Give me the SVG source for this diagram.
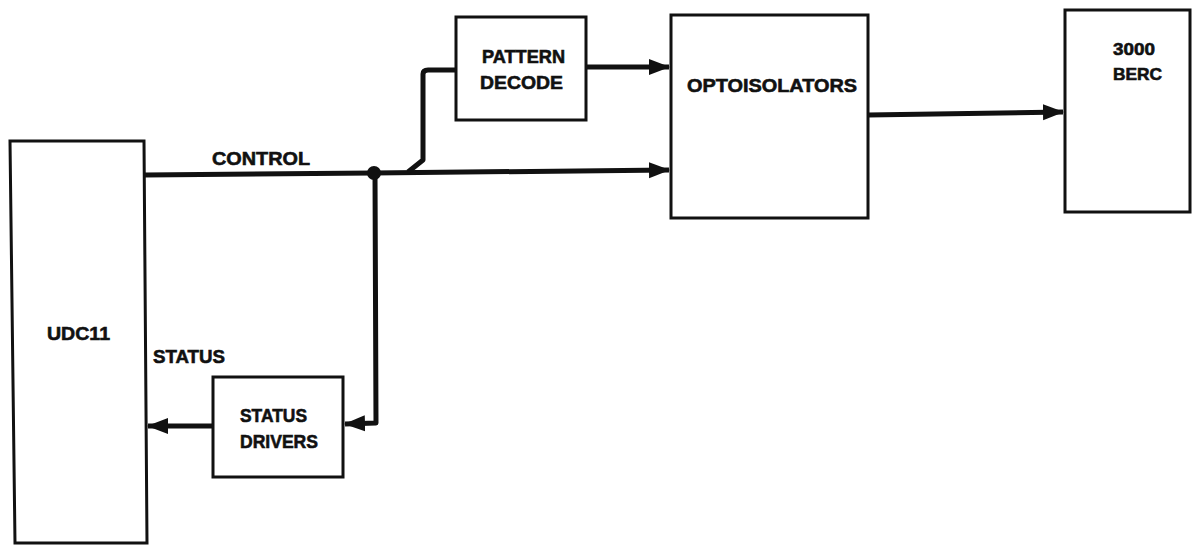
<svg xmlns="http://www.w3.org/2000/svg" width="1193" height="546" viewBox="0 0 1193 546">
  <style>
    .box { fill: #fff; stroke: #111; stroke-width: 3; }
    .wire { fill: none; stroke: #111; stroke-width: 5; stroke-linejoin: round; }
    .lbl { font-family: "Liberation Sans", Arial, sans-serif; font-weight: bold; fill: #111; stroke: #111; stroke-width: 0.6; }
  </style>
  <defs>
    <marker id="arr" markerUnits="userSpaceOnUse" markerWidth="22" markerHeight="20" refX="20" refY="10" orient="auto">
      <path d="M0,2 L21,10 L0,18 Z" fill="#111"/>
    </marker>
  </defs>
  <rect width="1193" height="546" fill="#fff"/>

  <g id="udc11">
    <path class="box" d="M10,141 L144,141 L147,543 L15,543 Z"/>
    <text class="lbl" x="47" y="340" font-size="19" textLength="63" lengthAdjust="spacingAndGlyphs">UDC11</text>
  </g>

  <g id="pattern-decode">
    <rect class="box" x="456" y="17" width="130" height="103"/>
    <text class="lbl" x="482" y="63" font-size="19" textLength="83" lengthAdjust="spacingAndGlyphs">PATTERN</text>
    <text class="lbl" x="480" y="89" font-size="19" textLength="83" lengthAdjust="spacingAndGlyphs">DECODE</text>
  </g>

  <g id="optoisolators">
    <rect class="box" x="671" y="15" width="197" height="203"/>
    <text class="lbl" x="687" y="92" font-size="19" textLength="170" lengthAdjust="spacingAndGlyphs">OPTOISOLATORS</text>
  </g>

  <g id="berc">
    <rect class="box" x="1065" y="10" width="125" height="202"/>
    <text class="lbl" x="1113" y="55" font-size="17" textLength="42" lengthAdjust="spacingAndGlyphs">3000</text>
    <text class="lbl" x="1113" y="80" font-size="17" textLength="49" lengthAdjust="spacingAndGlyphs">BERC</text>
  </g>

  <g id="status-drivers">
    <rect class="box" x="213" y="377" width="130" height="100"/>
    <text class="lbl" x="240" y="422" font-size="19" textLength="67" lengthAdjust="spacingAndGlyphs">STATUS</text>
    <text class="lbl" x="240" y="448" font-size="19" textLength="78" lengthAdjust="spacingAndGlyphs">DRIVERS</text>
  </g>

  <g id="connectors">
    <path class="wire" d="M145,175 L373,173 L669,170" marker-end="url(#arr)"/>
    <path class="wire" d="M408,172 L423,160 L423,74 Q423,70 428,70 L456,70"/>
    <path class="wire" d="M586,67 L669,67" marker-end="url(#arr)"/>
    <path class="wire" d="M868,115 L1063,112" marker-end="url(#arr)"/>
    <path class="wire" d="M375,173 L376,423 L345,424" marker-end="url(#arr)"/>
    <path class="wire" d="M213,426 L148,426" marker-end="url(#arr)"/>
    <circle cx="374" cy="173" r="7" fill="#111"/>
    <text class="lbl" x="212" y="165" font-size="19" textLength="98" lengthAdjust="spacingAndGlyphs">CONTROL</text>
    <text class="lbl" x="153" y="363" font-size="19" textLength="72" lengthAdjust="spacingAndGlyphs">STATUS</text>
  </g>
</svg>
